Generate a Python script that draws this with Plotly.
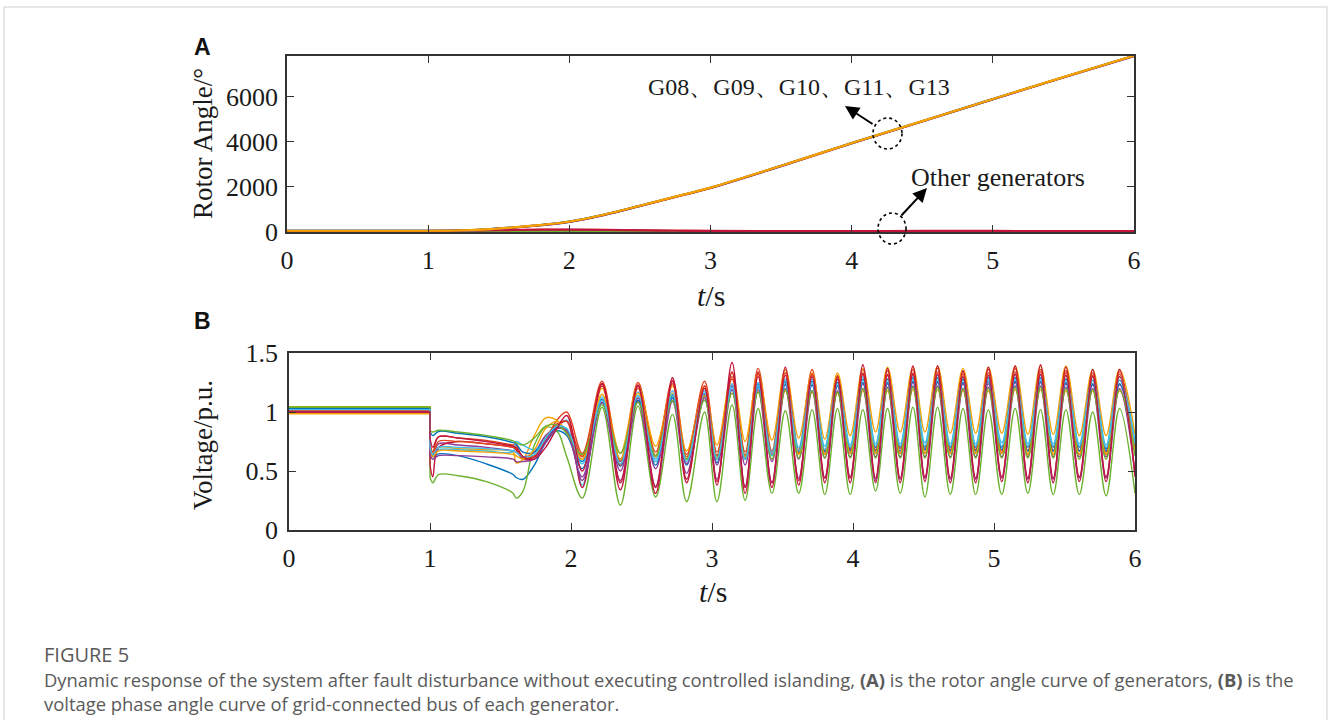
import plotly.graph_objects as go

W, H = 1328, 720

# ---------------- Panel A data: rotor angle (deg) ----------------
angle_t = [0, 1.0, 1.2, 1.4, 1.6, 1.8, 2.0, 2.25, 2.5, 2.75, 3.0, 3.5, 4.0, 4.5, 5.0, 5.5, 6.0]
angle_G01 = [20, 20, 22, 30, 40, 50, 55, 45, 35, 28, 25, 22, 22, 24, 24, 22, 22]
angle_G02 = [35, 35, 38, 48, 60, 72, 78, 65, 50, 40, 35, 30, 30, 32, 32, 30, 30]
angle_G03 = [40, 40, 43, 55, 70, 82, 88, 75, 60, 50, 42, 38, 38, 40, 40, 38, 38]
angle_G04 = [25, 25, 27, 35, 47, 58, 62, 52, 42, 34, 30, 27, 27, 29, 29, 27, 27]
angle_G05 = [15, 15, 16, 22, 30, 38, 42, 36, 28, 22, 18, 16, 16, 18, 18, 16, 16]
angle_G06 = [30, 30, 32, 42, 55, 66, 70, 60, 48, 38, 33, 30, 30, 32, 32, 30, 30]
angle_G07 = [45, 45, 48, 62, 80, 95, 100, 85, 65, 52, 45, 40, 40, 42, 42, 40, 40]
angle_G08 = [50, 50, 62, 110, 200, 310, 460, 770, 1160, 1560, 1960, 2930, 3940, 4910, 5890, 6860, 7810]
angle_G09 = [45, 45, 58, 105, 195, 305, 455, 765, 1155, 1555, 1955, 2925, 3935, 4905, 5885, 6855, 7805]
angle_G10 = [55, 55, 66, 115, 205, 315, 465, 775, 1165, 1565, 1965, 2935, 3945, 4915, 5895, 6865, 7815]
angle_G11 = [40, 40, 52, 100, 190, 300, 450, 760, 1150, 1550, 1950, 2920, 3930, 4900, 5880, 6850, 7800]
angle_G12 = [10, 10, 11, 15, 22, 28, 30, 26, 20, 15, 12, 10, 10, 12, 12, 10, 10]
angle_G13 = [48, 48, 60, 108, 198, 308, 458, 768, 1158, 1558, 1958, 2928, 3938, 4908, 5888, 6858, 7808]
angle_G14 = [50, 50, 53, 68, 88, 102, 108, 90, 70, 56, 48, 44, 44, 46, 46, 44, 44]

# ---------------- Panel B data: bus voltage (p.u.) ----------------
fault_t = [1.0, 1.02, 1.06, 1.2, 1.4, 1.59, 1.61, 1.66, 1.74, 1.82, 1.9, 1.97, 2.08]
peak_t = [2.22, 2.475, 2.72, 2.947, 3.142, 3.327, 3.52, 3.71, 3.89, 4.07,
          4.245, 4.425, 4.60, 4.78, 4.96, 5.15, 5.33, 5.51, 5.70, 5.89]
trough_t = [2.35, 2.60, 2.82, 3.035, 3.235, 3.425, 3.615, 3.80, 3.98, 4.16,
            4.335, 4.51, 4.69, 4.87, 5.055, 5.24, 5.42, 5.605, 5.795, 6.0]

v_pre = [1.03, 1.04, 1.045, 1.00, 1.04, 1.03, 1.02, 1.03, 1.01, 0.985, 1.00, 1.04, 1.02, 1.00]

bus01_fault = [0.70, 0.62, 0.645, 0.63, 0.56, 0.47, 0.445, 0.43, 0.55, 0.74, 0.84, 0.80, 0.52]
bus01_peaks = [1.11, 1.12, 1.14, 1.16, 1.22, 1.24, 1.26, 1.26, 1.25, 1.28, 1.28, 1.29, 1.29, 1.28, 1.29, 1.29, 1.29, 1.28, 1.27, 1.27]
bus01_troughs = [0.54, 0.55, 0.55, 0.57, 0.60, 0.63, 0.66, 0.67, 0.69, 0.70, 0.70, 0.70, 0.70, 0.70, 0.70, 0.70, 0.70, 0.70, 0.69, 0.72]

bus02_fault = [0.75, 0.66, 0.79, 0.78, 0.76, 0.72, 0.72, 0.62, 0.62, 0.76, 0.93, 1.00, 0.65]
bus02_peaks = [1.26, 1.25, 1.27, 1.26, 1.30, 1.37, 1.36, 1.36, 1.31, 1.36, 1.35, 1.36, 1.37, 1.34, 1.36, 1.37, 1.36, 1.35, 1.33, 1.34]
bus02_troughs = [0.55, 0.66, 0.64, 0.66, 0.66, 0.67, 0.68, 0.67, 0.68, 0.68, 0.69, 0.68, 0.68, 0.68, 0.67, 0.67, 0.67, 0.67, 0.66, 0.68]

bus03_fault = [0.72, 0.64, 0.70, 0.69, 0.68, 0.66, 0.57, 0.60, 0.80, 0.95, 0.93, 0.82, 0.63]
bus03_peaks = [1.20, 1.22, 1.22, 1.20, 1.33, 1.33, 1.36, 1.33, 1.33, 1.37, 1.38, 1.38, 1.39, 1.37, 1.38, 1.39, 1.39, 1.39, 1.36, 1.36]
bus03_troughs = [0.65, 0.71, 0.67, 0.72, 0.75, 0.76, 0.78, 0.77, 0.80, 0.83, 0.83, 0.83, 0.82, 0.82, 0.82, 0.81, 0.81, 0.80, 0.80, 0.81]

bus04_fault = [0.72, 0.63, 0.73, 0.72, 0.70, 0.67, 0.66, 0.62, 0.66, 0.80, 0.87, 0.83, 0.45]
bus04_peaks = [1.10, 1.12, 1.12, 1.15, 1.22, 1.22, 1.24, 1.23, 1.22, 1.24, 1.24, 1.25, 1.25, 1.24, 1.24, 1.25, 1.25, 1.24, 1.23, 1.23]
bus04_troughs = [0.50, 0.52, 0.56, 0.55, 0.55, 0.58, 0.60, 0.61, 0.62, 0.62, 0.62, 0.62, 0.62, 0.62, 0.62, 0.62, 0.62, 0.62, 0.62, 0.64]

bus05_fault = [0.45, 0.40, 0.47, 0.46, 0.41, 0.31, 0.27, 0.33, 0.72, 0.87, 0.84, 0.62, 0.27]
bus05_peaks = [1.04, 1.05, 0.98, 1.00, 1.06, 1.03, 1.01, 1.02, 1.03, 1.02, 1.03, 1.04, 1.04, 1.03, 1.02, 1.03, 1.02, 1.02, 1.00, 1.03]
bus05_troughs = [0.21, 0.28, 0.24, 0.24, 0.25, 0.31, 0.31, 0.30, 0.30, 0.33, 0.31, 0.28, 0.30, 0.30, 0.30, 0.31, 0.30, 0.30, 0.29, 0.31]

bus06_fault = [0.66, 0.63, 0.68, 0.68, 0.67, 0.665, 0.75, 0.72, 0.68, 0.76, 0.88, 0.93, 0.38]
bus06_peaks = [1.13, 1.17, 1.18, 1.18, 1.24, 1.25, 1.28, 1.28, 1.27, 1.30, 1.31, 1.31, 1.31, 1.30, 1.31, 1.32, 1.31, 1.31, 1.30, 1.30]
bus06_troughs = [0.58, 0.60, 0.60, 0.62, 0.62, 0.66, 0.70, 0.71, 0.72, 0.73, 0.73, 0.74, 0.73, 0.73, 0.74, 0.73, 0.73, 0.73, 0.72, 0.75]

bus07_fault = [0.55, 0.45, 0.70, 0.75, 0.73, 0.70, 0.68, 0.60, 0.62, 0.75, 0.88, 0.92, 0.36]
bus07_peaks = [1.24, 1.23, 1.29, 1.22, 1.42, 1.34, 1.38, 1.32, 1.30, 1.40, 1.37, 1.39, 1.39, 1.35, 1.38, 1.39, 1.40, 1.38, 1.36, 1.36]
bus07_troughs = [0.34, 0.31, 0.40, 0.38, 0.31, 0.36, 0.38, 0.40, 0.40, 0.40, 0.40, 0.41, 0.40, 0.40, 0.41, 0.40, 0.40, 0.41, 0.41, 0.45]

bus08_fault = [0.83, 0.80, 0.835, 0.82, 0.79, 0.74, 0.73, 0.66, 0.66, 0.78, 0.87, 0.85, 0.58]
bus08_peaks = [1.08, 1.10, 1.12, 1.13, 1.19, 1.21, 1.23, 1.23, 1.22, 1.25, 1.25, 1.26, 1.26, 1.25, 1.26, 1.26, 1.26, 1.25, 1.24, 1.24]
bus08_troughs = [0.60, 0.62, 0.60, 0.63, 0.63, 0.64, 0.66, 0.66, 0.67, 0.67, 0.67, 0.68, 0.67, 0.67, 0.68, 0.67, 0.67, 0.67, 0.67, 0.69]

bus09_fault = [0.72, 0.64, 0.75, 0.75, 0.73, 0.70, 0.69, 0.62, 0.63, 0.78, 0.90, 0.92, 0.62]
bus09_peaks = [1.22, 1.20, 1.24, 1.22, 1.28, 1.32, 1.33, 1.32, 1.29, 1.33, 1.32, 1.33, 1.34, 1.32, 1.33, 1.34, 1.34, 1.33, 1.31, 1.32]
bus09_troughs = [0.58, 0.63, 0.62, 0.63, 0.63, 0.64, 0.65, 0.64, 0.65, 0.65, 0.65, 0.65, 0.65, 0.65, 0.65, 0.64, 0.64, 0.64, 0.64, 0.66]

bus10_fault = [0.68, 0.62, 0.67, 0.67, 0.66, 0.64, 0.63, 0.60, 0.68, 0.86, 0.92, 0.83, 0.60]
bus10_peaks = [1.15, 1.16, 1.16, 1.14, 1.16, 1.17, 1.18, 1.17, 1.16, 1.18, 1.18, 1.19, 1.19, 1.18, 1.18, 1.19, 1.19, 1.18, 1.18, 1.18]
bus10_troughs = [0.60, 0.62, 0.60, 0.61, 0.62, 0.63, 0.64, 0.64, 0.65, 0.65, 0.65, 0.65, 0.65, 0.65, 0.65, 0.64, 0.64, 0.64, 0.64, 0.66]

bus11_fault = [0.64, 0.60, 0.63, 0.63, 0.62, 0.60, 0.58, 0.58, 0.60, 0.74, 0.86, 0.84, 0.42]
bus11_peaks = [1.08, 1.09, 1.09, 1.12, 1.19, 1.19, 1.20, 1.18, 1.18, 1.20, 1.21, 1.22, 1.22, 1.20, 1.21, 1.22, 1.22, 1.21, 1.20, 1.20]
bus11_troughs = [0.42, 0.37, 0.48, 0.43, 0.37, 0.40, 0.44, 0.44, 0.45, 0.42, 0.43, 0.44, 0.43, 0.43, 0.44, 0.43, 0.43, 0.44, 0.44, 0.48]

bus12_fault = [0.84, 0.83, 0.845, 0.83, 0.80, 0.755, 0.74, 0.72, 0.78, 0.88, 0.89, 0.82, 0.64]
bus12_peaks = [1.06, 1.08, 1.10, 1.10, 1.16, 1.17, 1.19, 1.18, 1.17, 1.20, 1.20, 1.21, 1.21, 1.20, 1.20, 1.21, 1.21, 1.20, 1.19, 1.19]
bus12_troughs = [0.65, 0.63, 0.60, 0.60, 0.60, 0.60, 0.61, 0.61, 0.61, 0.61, 0.61, 0.61, 0.61, 0.61, 0.61, 0.61, 0.61, 0.60, 0.60, 0.63]

bus13_fault = [0.70, 0.64, 0.70, 0.70, 0.69, 0.67, 0.66, 0.62, 0.64, 0.78, 0.88, 0.86, 0.56]
bus13_peaks = [1.10, 1.14, 1.15, 1.16, 1.21, 1.22, 1.25, 1.25, 1.24, 1.27, 1.27, 1.28, 1.28, 1.27, 1.28, 1.28, 1.28, 1.27, 1.27, 1.27]
bus13_troughs = [0.56, 0.58, 0.58, 0.60, 0.60, 0.63, 0.67, 0.68, 0.70, 0.71, 0.71, 0.71, 0.71, 0.71, 0.71, 0.71, 0.71, 0.71, 0.70, 0.73]

bus14_fault = [0.78, 0.70, 0.79, 0.78, 0.75, 0.71, 0.70, 0.62, 0.60, 0.70, 0.86, 0.97, 0.50]
bus14_peaks = [1.24, 1.22, 1.26, 1.20, 1.34, 1.30, 1.31, 1.30, 1.28, 1.32, 1.31, 1.32, 1.32, 1.30, 1.31, 1.32, 1.32, 1.31, 1.30, 1.30]
bus14_troughs = [0.40, 0.36, 0.43, 0.41, 0.36, 0.40, 0.42, 0.44, 0.44, 0.44, 0.44, 0.45, 0.44, 0.44, 0.45, 0.44, 0.44, 0.45, 0.45, 0.48]

gen_names = ["G01", "G02", "G03", "G04", "G05", "G06", "G07",
             "G08", "G09", "G10", "G11", "G12", "G13", "G14"]
unstable = ["G13", "G11", "G08", "G09", "G10"]   # drawn last, in this order

# ---------------- styling ----------------
palette = ['#0072BD', '#E2441E', '#F5A300', '#8E3A96', '#6BB12E', '#3FBDEB', '#C1153B']
SERIF = "Liberation Serif, Times New Roman, serif"
AXC = '#333333'

angles = [angle_G01, angle_G02, angle_G03, angle_G04, angle_G05, angle_G06, angle_G07,
          angle_G08, angle_G09, angle_G10, angle_G11, angle_G12, angle_G13, angle_G14]
buses = [
    (bus01_fault, bus01_peaks, bus01_troughs), (bus02_fault, bus02_peaks, bus02_troughs),
    (bus03_fault, bus03_peaks, bus03_troughs), (bus04_fault, bus04_peaks, bus04_troughs),
    (bus05_fault, bus05_peaks, bus05_troughs), (bus06_fault, bus06_peaks, bus06_troughs),
    (bus07_fault, bus07_peaks, bus07_troughs), (bus08_fault, bus08_peaks, bus08_troughs),
    (bus09_fault, bus09_peaks, bus09_troughs), (bus10_fault, bus10_peaks, bus10_troughs),
    (bus11_fault, bus11_peaks, bus11_troughs), (bus12_fault, bus12_peaks, bus12_troughs),
    (bus13_fault, bus13_peaks, bus13_troughs), (bus14_fault, bus14_peaks, bus14_troughs),
]

fig = go.Figure()

order = [n for n in gen_names if n not in unstable] + unstable
for name in order:
    i = gen_names.index(name)
    fig.add_trace(go.Scatter(x=angle_t, y=angles[i], mode='lines', name=name,
                             line=dict(color=palette[i % 7], width=2.2, shape='spline'),
                             xaxis='x', yaxis='y', showlegend=False, hoverinfo='skip'))

for i, (name, (flt, pks, trs)) in enumerate(zip(gen_names, buses)):
    c = palette[i % 7]
    # pre-fault level and the step at the fault instant
    fig.add_trace(go.Scatter(x=[0, fault_t[0], fault_t[0]], y=[v_pre[i], v_pre[i], flt[0]],
                             mode='lines', line=dict(color=c, width=1.4),
                             xaxis='x2', yaxis='y2', showlegend=False, hoverinfo='skip'))
    xs = list(fault_t)
    ys = list(flt)
    for tp, vp, tt, vt in zip(peak_t, pks, trough_t, trs):
        xs += [tp, tt]
        ys += [vp, vt]
    fig.add_trace(go.Scatter(x=xs, y=ys, mode='lines', name=name,
                             line=dict(color=c, width=1.4, shape='spline', smoothing=1.0),
                             xaxis='x2', yaxis='y2', showlegend=False, hoverinfo='skip'))


def px(x):
    return x / W


def py(y):
    return 1 - y / H


axis_common = dict(showgrid=False, zeroline=False, showline=True, linecolor=AXC, linewidth=1.5,
                   mirror='ticks', ticks='inside', ticklen=7, tickwidth=1.3, tickcolor=AXC,
                   automargin=False,
                   tickfont=dict(family=SERIF, size=26, color='#1a1a1a'))

fig.update_layout(
    width=W, height=H, autosize=False,
    margin=dict(l=0, r=0, t=0, b=0, pad=0, autoexpand=False),
    paper_bgcolor='white', plot_bgcolor='white',
    showlegend=False,
    xaxis=dict(domain=[px(287), px(1134)], range=[0, 6], tickvals=[0, 1, 2, 3, 4, 5, 6],
               anchor='y', ticklabelstandoff=4, **axis_common),
    yaxis=dict(domain=[py(232), py(56)], range=[0, 7800], tickvals=[0, 2000, 4000, 6000],
               anchor='x', ticklabelstandoff=2, **axis_common),
    xaxis2=dict(domain=[px(289), px(1135)], range=[0, 6], tickvals=[0, 1, 2, 3, 4, 5, 6],
                anchor='y2', ticklabelstandoff=4, **axis_common),
    yaxis2=dict(domain=[py(530), py(353)], range=[0, 1.5], tickvals=[0, 0.5, 1, 1.5],
                ticktext=['0', '0.5', '1', '1.5'], anchor='x2', ticklabelstandoff=4, **axis_common),
)


def label(text, x, y, size, family=SERIF, color='#1a1a1a', angle=0, xanchor='center'):
    return dict(text=text, x=px(x), y=py(y), xref='paper', yref='paper', showarrow=False,
                xanchor=xanchor, yanchor='middle', textangle=angle,
                font=dict(family=family, size=size, color=color))


SANS = 'Liberation Sans, Arial, sans-serif'
CAP = 'Open Sans, Noto Sans, sans-serif'
ann = [
    label('<b>A</b>', 202, 47, 23, SANS, '#111'),
    label('<b>B</b>', 202, 321, 23, SANS, '#111'),
    label('Rotor Angle/°', 203, 144, 27, angle=-90),
    label('Voltage/p.u.', 203, 445, 27, angle=-90),
    label('<i>t</i>/s', 711, 295, 30),
    label('<i>t</i>/s', 713, 591, 30),
    label('G08、G09、G10、G11、G13', 799, 87, 24),
    label('Other generators', 998, 177, 26),
    dict(text='', x=px(845), y=py(106), xref='paper', yref='paper', showarrow=True,
         ax=29, ay=19, arrowhead=2, arrowsize=1.4, arrowwidth=2, arrowcolor='black'),
    dict(text='', x=px(927), y=py(188), xref='paper', yref='paper', showarrow=True,
         ax=-27, ay=29, arrowhead=2, arrowsize=1.4, arrowwidth=2, arrowcolor='black'),
    label('FIGURE 5', 42, 654, 20, CAP, '#5a5a5a', xanchor='left'),
    label('Dynamic response of the system after fault disturbance without executing controlled islanding, '
          '<b>(A)</b> is the rotor angle curve of generators, <b>(B)</b> is the',
          42, 679, 18.4, CAP, '#5a5a5a', xanchor='left'),
    label('voltage phase angle curve of grid-connected bus of each generator.',
          42, 703, 18.4, CAP, '#5a5a5a', xanchor='left'),
]
fig.update_layout(annotations=ann)

shapes = [
    dict(type='rect', xref='paper', yref='paper', x0=px(4), x1=px(1327), y0=py(730), y1=py(7),
         line=dict(color='#cfcfcf', width=1), fillcolor='rgba(0,0,0,0)', layer='below'),
    dict(type='circle', xref='paper', yref='paper', x0=px(873), x1=px(902), y0=py(149), y1=py(118),
         line=dict(color='black', width=1.6, dash='dot')),
    dict(type='circle', xref='paper', yref='paper', x0=px(878), x1=px(906), y0=py(244), y1=py(213),
         line=dict(color='black', width=1.6, dash='dot')),
]
fig.update_layout(shapes=shapes)

fig.write_html("out.html", config={'displayModeBar': False},
               post_script="document.body.style.margin='0';document.body.style.padding='0';"
                           "document.body.style.overflow='hidden';")
